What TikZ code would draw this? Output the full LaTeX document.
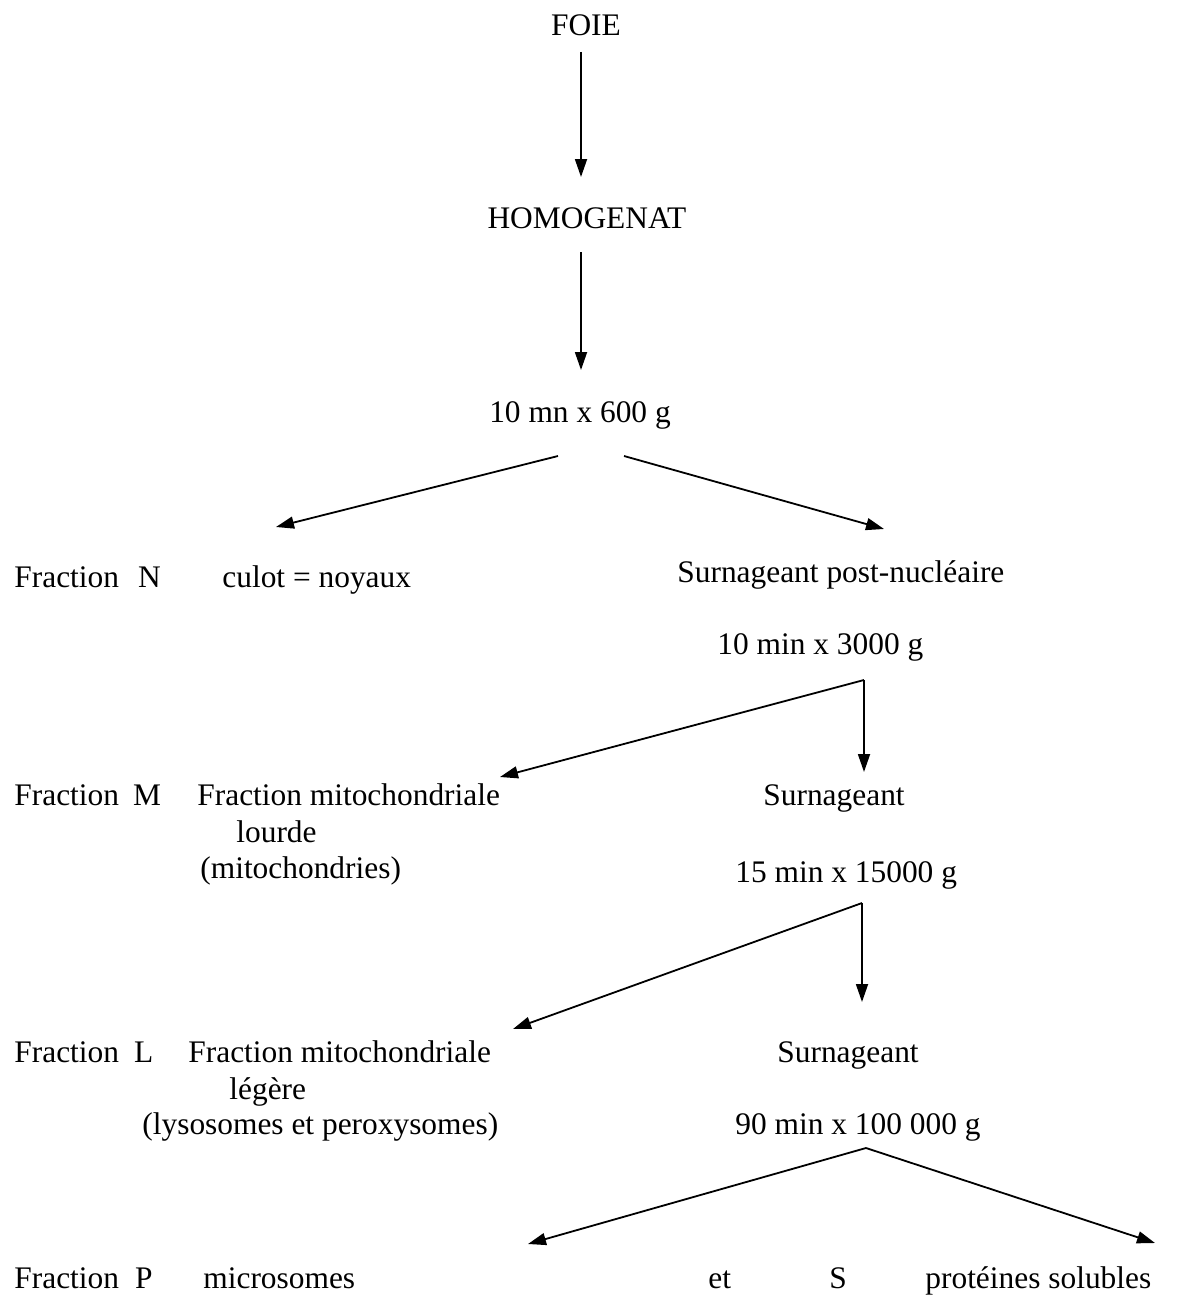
\documentclass[tikz,border=0pt]{standalone}
\usepackage{fontspec}
\setmainfont{Liberation Serif}
\usetikzlibrary{arrows.meta}
\begin{document}
\begin{tikzpicture}[x=0.5pt,y=-0.5pt,
  txt/.style={inner sep=0pt,anchor=base west,font=\fontsize{15.7}{18}\selectfont},
  ctxt/.style={inner sep=0pt,anchor=base,font=\fontsize{15.7}{18}\selectfont},
  arr/.style={line width=0.9pt,-{Triangle[length=9pt,width=6pt]}}]
\useasboundingbox[fill=white] (0,0) rectangle (1182,1295);
% top chain
\node[ctxt] (foie) at (586,36) {FOIE};
\node[ctxt] (homog) at (587,228) {HOMOGENAT};
\node[ctxt] (c1) at (580,422) {10 mn x 600 g};
\coordinate (a1s) at (581,52);
\coordinate (a1e) at (581,177);
\coordinate (a2s) at (581,252);
\coordinate (a2e) at (581,370);
\draw[arr] (a1s) -- (a1e);
\draw[arr] (a2s) -- (a2e);
% split 1
\coordinate (b1l) at (558,456);
\coordinate (b1r) at (624,456);
\coordinate (t1l) at (276,527);
\coordinate (t1r) at (884,529);
\draw[arr] (b1l) -- (t1l);
\draw[arr] (b1r) -- (t1r);
\node[txt] (fn) at (14,587) {Fraction\hspace{9.5pt}N};
\node[txt] (fnt) at (222,587) {culot = noyaux};
\node[txt] (spn) at (677,582) {Surnageant post-nucléaire};
\node[txt] (c2) at (717,654) {10 min x 3000 g};
% split 2
\coordinate (j2) at (864,680);
\coordinate (t2l) at (500,777);
\coordinate (t2d) at (864,772);
\draw[arr] (j2) -- (t2l);
\draw[arr] (j2) -- (t2d);
\node[txt] (fm) at (14,805) {Fraction\hspace{7pt}M};
\node[txt] (fmt1) at (197,805) {Fraction mitochondriale};
\node[txt] (fmt2) at (236,842) {lourde};
\node[txt] (fmt3) at (200,878) {(mitochondries)};
\node[txt] (s2) at (763,805) {Surnageant};
\node[txt] (c3) at (735,882) {15 min x 15000 g};
% split 3
\coordinate (j3) at (862,903);
\coordinate (t3l) at (513,1029);
\coordinate (t3d) at (862,1002);
\draw[arr] (j3) -- (t3l);
\draw[arr] (j3) -- (t3d);
\node[txt] (fl) at (14,1062) {Fraction\hspace{7.5pt}L};
\node[txt] (flt1) at (188,1062) {Fraction mitochondriale};
\node[txt] (flt2) at (229,1099) {légère};
\node[txt] (flt3) at (142,1134) {(lysosomes et peroxysomes)};
\node[txt] (s3) at (777,1062) {Surnageant};
\node[txt] (c4) at (735,1134) {90 min x 100 000 g};
% split 4
\coordinate (j4) at (866,1148);
\coordinate (t4l) at (528,1244);
\coordinate (t4r) at (1155,1243);
\draw[arr] (j4) -- (t4l);
\draw[arr] (j4) -- (t4r);
\node[txt] (fp) at (14,1288) {Fraction\hspace{8pt}P};
\node[txt] (fpt) at (203,1288) {microsomes};
\node[txt] (et) at (708,1288) {et};
\node[txt] (ss) at (829,1288) {S};
\node[txt] (prot) at (925,1288) {protéines solubles};
\end{tikzpicture}
\end{document}
